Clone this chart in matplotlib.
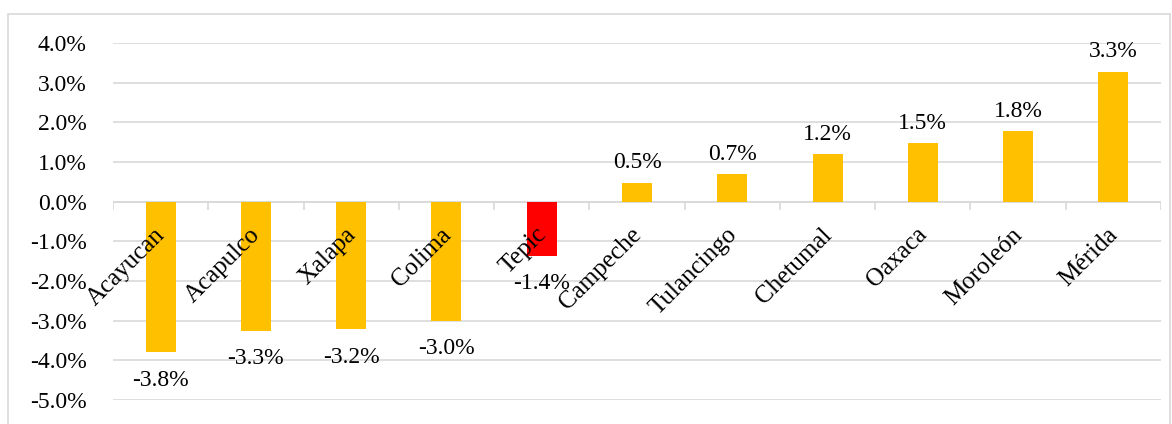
import matplotlib.pyplot as plt
from matplotlib.patches import Rectangle
from matplotlib.ticker import FuncFormatter
import numpy as np

plt.rcParams['font.family'] = ['Liberation Serif', 'DejaVu Serif']

# datos
ciudades = ['Acayucan', 'Acapulco', 'Xalapa', 'Colima', 'Tepic', 'Campeche',
            'Tulancingo', 'Chetumal', 'Oaxaca', 'Moroleón', 'Mérida']
variacion = [-3.8, -3.26, -3.22, -3.0, -1.36, 0.48, 0.7, 1.2, 1.48, 1.78, 3.28]
colores = ['#FFC000'] * 4 + ['#FF0000'] + ['#FFC000'] * 6
yticks = [4, 3, 2, 1, 0, -1, -2, -3, -4, -5]

fig = plt.figure(figsize=(11.72, 4.24), dpi=100)
# marco del gráfico
fig.patches.append(Rectangle((8 / 1172, -0.05), 1162 / 1172, 1.05 - 14 / 424,
                             transform=fig.transFigure, fill=False,
                             edgecolor='#D9D9D9', linewidth=1.2))

ax = fig.add_axes([113 / 1172, 1 - 400 / 424, 1048 / 1172, 357 / 424])
x = np.arange(len(ciudades))
ax.bar(x, variacion, width=0.315, color=colores, zorder=3)

ax.set_xlim(-0.5, len(ciudades) - 0.5)
ax.set_ylim(-5, 4)
ax.set_yticks(yticks)
ax.yaxis.set_major_formatter(FuncFormatter(lambda v, p: f'{v:.1f}%'))
ax.tick_params(axis='y', length=0, pad=19, labelsize=17)
ax.set_xticks([])
ax.grid(axis='y', color='#D9D9D9', linewidth=1.2, zorder=0)
for s in ax.spines.values():
    s.set_visible(False)

# eje en cero con marcas entre categorías
ax.axhline(0, color='#D9D9D9', linewidth=1.2, zorder=2)
ax.vlines(np.arange(len(ciudades) + 1) - 0.5, -0.2, 0, color='#D9D9D9',
          linewidth=1.2, zorder=2)

for xi, v, nombre in zip(x, variacion, ciudades):
    if v < 0:
        ax.text(xi, v - 0.7, f'{v:.1f}%', ha='center', va='center',
                fontsize=17, clip_on=False)
    else:
        ax.text(xi, v + 0.5, f'{v:.1f}%', ha='center', va='center',
                fontsize=17, clip_on=False)
    ax.text(xi + 0.01, -0.75, nombre, rotation=45, rotation_mode='anchor',
            ha='right', va='center', fontsize=18, zorder=4)

fig.savefig('out.png', dpi=100, facecolor='white')
